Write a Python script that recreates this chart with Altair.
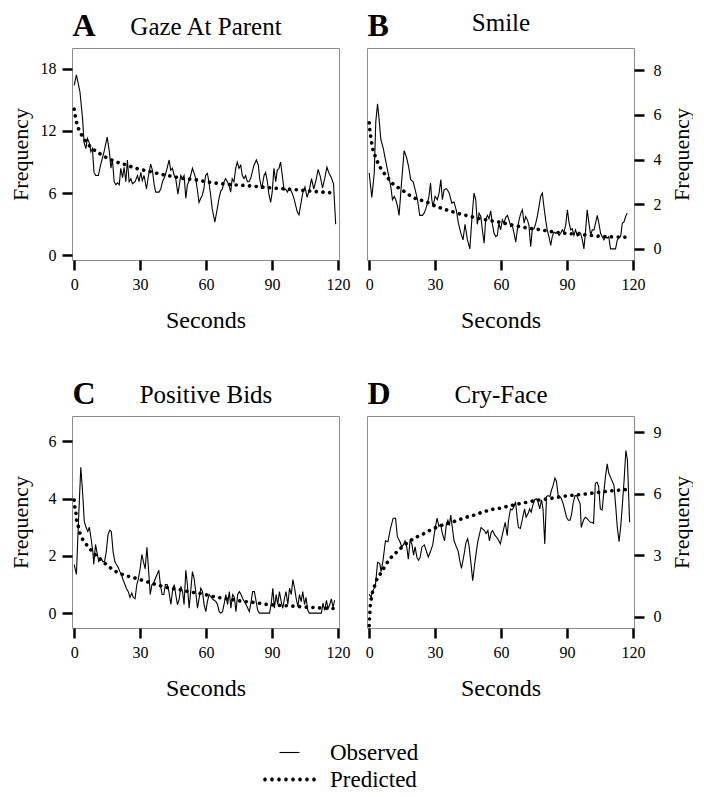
import altair as alt
import pandas as pd

FONT = "Liberation Serif"
SERIES = ["Observed", "Predicted"]
LETTERS = ["A", "B", "C", "D"]
NAMES = ["Gaze At Parent", "Smile", "Positive Bids", "Cry-Face"]
X_TICKS = [0, 30, 60, 90, 120]
A_TICKS = [0, 6, 12, 18]
B_TICKS = [0, 2, 4, 6, 8]
C_TICKS = [0, 2, 4, 6]
D_TICKS = [0, 3, 6, 9]

a_observed = [(0, 16.4), (1, 17.4), (2.6, 15.8), (3.8, 13.2), (4.5, 10.9), (5.3, 10.3), (6, 11.3), (6.8, 10.9),
              (7.6, 10.0), (8.3, 10.3), (9, 8.0), (9.8, 7.7), (11, 7.7), (12, 8.7), (13.6, 10.0), (15, 11.4),
              (16, 10.0), (16.7, 8.4), (17.4, 9.2), (18.2, 7.1), (19, 6.8), (19.7, 7.0), (20.5, 6.8), (21.2, 8.4),
              (22, 7.5), (22.7, 8.5), (23.5, 7.1), (24.2, 9.2), (25, 7.1), (25.8, 7.4), (26.5, 6.9), (27.7, 7.1),
              (28.8, 7.7), (29.5, 7.1), (30.3, 8.0), (31, 7.2), (31.8, 7.7), (32.9, 6.4), (33.8, 7.7), (34.8, 8.8),
              (35.6, 8.2), (36.4, 6.8), (37.1, 6.1), (38.6, 6.1), (39.4, 6.4), (40.2, 7.1), (41.4, 7.7), (42.4, 8.5),
              (43.2, 9.2), (43.9, 8.2), (44.7, 8.4), (45.5, 7.7), (46.2, 7.4), (47.2, 5.9), (48.5, 7.7), (49.3, 7.4),
              (50, 7.7), (50.8, 5.5), (51.5, 6.8), (52.3, 7.2), (53, 7.7), (53.8, 8.4), (54.6, 7.9), (55.3, 7.4),
              (56, 6.4), (56.8, 5.1), (57.6, 5.5), (58.3, 5.8), (59, 6.4), (59.8, 7.7), (60.6, 7.9), (61.3, 7.1),
              (62.1, 5.8), (62.8, 4.5), (64, 3.2), (65.1, 4.5), (65.9, 5.5), (66.7, 6.2), (67.4, 6.4), (68.2, 7.1),
              (68.9, 7.4), (69.7, 7.1), (70.4, 6.8), (71.2, 6.1), (71.9, 7.4), (72.7, 7.1), (73.5, 8.4), (74.2, 9.0),
              (75, 8.4), (75.8, 8.7), (76.5, 7.7), (77.3, 7.4), (78, 7.7), (78.8, 7.1), (79.5, 7.1), (80.3, 7.4),
              (81, 8.0), (81.8, 8.7), (82.9, 9.2), (83.8, 8.7), (84.4, 7.4), (85.3, 6.4), (86.4, 7.7), (87.1, 8.0),
              (87.9, 7.1), (88.6, 5.9), (89.4, 5.1), (90.1, 6.1), (90.9, 8.4), (91.7, 7.1), (92.4, 8.2), (93.2, 8.4),
              (93.9, 9.0), (94.7, 7.7), (95.5, 6.3), (96.2, 6.4), (97, 6.1), (97.7, 6.4), (98.5, 6.3), (99.2, 6.0),
              (100, 5.5), (100.8, 4.8), (101.5, 4.2), (102.3, 3.9), (103, 4.8), (104, 6.0), (105, 6.6), (106, 5.6),
              (107, 6.3), (108, 7.4), (109, 6.4), (110, 7.2), (111, 8.3), (112, 7.6), (113, 6.5), (114, 7.4),
              (115, 8.5), (116, 7.9), (117, 7.5), (118, 6.9), (119, 3.0)]
a_predicted = [(0, 14.1), (1, 12.9), (2, 12.2), (4, 11.4), (6, 10.8), (8, 10.35), (11, 9.9), (14, 9.5), (17, 9.2),
               (20, 8.95), (24, 8.7), (28, 8.4), (32, 8.2), (36, 8.0), (40, 7.8), (45, 7.6), (50, 7.4), (55, 7.3),
               (60, 7.1), (70, 6.85), (80, 6.7), (90, 6.5), (100, 6.35), (110, 6.15), (119, 6.0)]

b_observed = [(0, 3.4), (1.2, 2.3), (2.3, 3.4), (3, 5.7), (3.8, 6.5), (4.5, 5.8), (5.3, 4.9), (6.4, 4.5), (7.6, 3.9),
              (8.8, 3.3), (9.8, 2.8), (10.6, 2.2), (11.4, 2.35), (12.1, 2.2), (12.9, 1.9), (13.6, 1.5), (14.7, 2.95),
              (15.9, 4.4), (17, 4.1), (17.9, 3.7), (18.9, 3.1), (20, 3.0), (20.9, 2.65), (22, 2.2), (23, 1.5),
              (24.2, 1.5), (25, 1.6), (25.8, 1.8), (26.5, 2.05), (27.2, 2.35), (27.9, 2.95), (28.5, 2.2), (29, 1.9),
              (30, 2.35), (31, 2.2), (31.8, 2.5), (32.6, 3.1), (33.3, 2.2), (34.1, 2.65), (35.2, 2.7), (36.4, 2.5),
              (37.6, 2.05), (38.6, 2.1), (39.7, 1.7), (40.6, 1.15), (41.7, 0.7), (42.7, 0.4), (43.6, 1.1), (44.7, 0.4),
              (45.8, 0.0), (46.7, 1.3), (47.7, 2.5), (48.5, 2.2), (49.2, 1.1), (50, 1.6), (50.8, 1.45), (51.5, 0.85),
              (52.3, 0.25), (53, 1.3), (53.8, 1.5), (54.5, 1.35), (55.3, 1.7), (56, 1.15), (56.8, 0.7), (57.6, 0.55),
              (58.3, 0.6), (59, 1.15), (59.8, 0.85), (60.6, 1.3), (61.3, 1.15), (62.1, 1.4), (62.9, 1.5), (63.6, 1.3),
              (64.4, 1.0), (65.1, 1.05), (65.9, 0.7), (66.7, 0.3), (67.4, 0.85), (68.2, 1.3), (69, 1.6), (69.7, 1.75),
              (70.5, 1.15), (71.2, 1.45), (72, 1.3), (72.7, 1.05), (73.5, 0.1), (74.2, 0.85), (75, 0.9), (75.8, 1.15),
              (76.5, 1.45), (77.3, 1.9), (78, 2.35), (78.8, 2.5), (79.5, 1.9), (80.3, 1.3), (81, 0.85), (81.8, 0.55),
              (82.6, 0.15), (83.3, 0.55), (84.1, 0.75), (84.8, 0.7), (85.6, 0.75), (86.4, 0.6), (87.1, 0.7),
              (87.9, 0.85), (88.6, 0.75), (89.4, 1.05), (90.2, 1.75), (90.9, 1.2), (91.7, 0.85), (92.4, 0.9),
              (93.2, 0.6), (93.9, 0.85), (94.7, 0.6), (95.5, 0.75), (96.2, 0.7), (97, 0.4), (97.7, 0.0), (98.5, 0.85),
              (99.2, 1.75), (100, 1.15), (100.8, 0.6), (101.5, 0.85), (102.3, 0.85), (103, 1.15), (103.8, 1.5),
              (104.5, 1.15), (105.3, 0.7), (106, 0.55), (106.8, 0.4), (107.6, 0.55), (108.3, 0.48), (109, 0.55),
              (109.8, 0.0), (111.4, 0.0), (112.1, 0.0), (112.9, 0.4), (113.6, 0.48), (114.4, 0.55), (115.2, 1.15),
              (115.9, 1.2), (116.7, 1.45), (117.4, 1.6)]
b_predicted = [(0, 5.65), (0.3, 5.3), (0.75, 5.0), (1.2, 4.7), (1.8, 4.4), (3, 4.1), (4.2, 3.8), (6, 3.5), (8.3, 3.2),
               (10.9, 2.9), (13.9, 2.7), (17, 2.5), (20, 2.3), (23, 2.2), (26, 2.1), (29, 1.96), (32, 1.85), (35, 1.75),
               (38, 1.66), (41, 1.57), (44, 1.5), (47, 1.43), (53, 1.3), (59, 1.2), (65, 1.07), (71, 0.95), (77, 0.87),
               (83, 0.77), (89, 0.7), (95, 0.65), (101, 0.6), (107, 0.55), (113, 0.53), (118, 0.52)]

c_observed = [(0, 1.7), (1, 1.35), (2, 3.3), (3, 5.1), (3.8, 4.25), (4.6, 3.2), (5.4, 3.0), (6.2, 2.85), (6.9, 3.0),
              (7.7, 2.6), (8.5, 2.15), (8.9, 1.7), (9.7, 2.4), (10.3, 2.15), (11.2, 1.8), (12.3, 1.9), (13, 1.8),
              (13.8, 1.8), (14.6, 2.15), (15.4, 2.75), (16.2, 2.9), (16.9, 2.85), (17.7, 2.15), (18.5, 1.8), (19.2, 1.7),
              (20, 1.6), (20.8, 1.45), (21.5, 1.35), (22.3, 1.15), (23.1, 1.0), (23.8, 0.85), (24.6, 0.75), (25.4, 0.55),
              (26.2, 0.7), (26.9, 0.55), (27.7, 0.5), (28.5, 1.0), (29.2, 1.2), (30, 1.55), (30.8, 2.05), (31.5, 1.8),
              (32.3, 1.55), (33.1, 2.3), (33.8, 1.55), (34.6, 0.65), (35.4, 1.0), (36.1, 1.05), (36.9, 1.2),
              (37.7, 1.35), (38.5, 1.5), (39.2, 1.0), (40, 0.65), (40.8, 0.65), (41.5, 1.0), (42.3, 1.0), (43.1, 0.75),
              (44, 0.3), (44.7, 0.75), (45.5, 1.0), (46.2, 0.65), (47, 0.3), (47.8, 0.5), (48.5, 0.93), (49.3, 0.75),
              (50, 0.3), (50.8, 1.5), (51.5, 1.0), (52.3, 0.17), (53, 0.75), (53.8, 1.45), (54.6, 1.2), (55.3, 0.75),
              (56.1, 0.17), (56.8, 0.5), (57.6, 0.87), (58.4, 0.75), (59.1, 0.3), (59.9, 0.05), (60.6, 0.4),
              (61.4, 0.65), (62.1, 0.58), (62.9, 0.5), (63.7, 0.45), (64.5, 0.4), (65.2, 0.3), (66, 0.05), (66.7, 0.0),
              (67.5, 0.05), (68.3, 0.35), (69, 0.65), (69.8, 0.3), (70.6, 0.75), (71.3, 0.17), (72.1, 0.65),
              (72.9, 0.55), (73.6, 0.05), (74.4, 0.65), (75.2, 0.75), (75.9, 0.65), (76.7, 0.5), (77.5, 0.4),
              (78.2, 0.3), (79, 0.17), (79.7, 0.05), (80.5, 0.4), (81.2, 0.75), (82, 0.75), (82.8, 0.4), (83.5, 0.1),
              (84.3, 0.0), (88.9, 0.0), (89.6, 0.3), (90.4, 0.87), (91.1, 0.17), (91.9, 0.65), (92.6, 0.3),
              (93.4, 0.75), (94.2, 0.4), (94.9, 0.17), (95.7, 0.52), (96.4, 0.75), (97.2, 0.3), (98, 0.87),
              (98.8, 0.65), (99.5, 1.17), (100.3, 0.87), (101, 0.52), (101.8, 0.23), (102.5, 0.65), (103.3, 0.4),
              (104, 0.75), (104.8, 0.3), (105.5, 0.55), (106.3, 0.1), (107, 0.0), (112.5, 0.0), (113.2, 0.35),
              (114, 0.1), (114.8, 0.45), (115.5, 0.15), (116.3, 0.3), (117, 0.5), (117.8, 0.2), (118.5, 0.45)]
c_predicted = [(0, 3.95), (0.3, 3.7), (0.8, 3.5), (1.1, 3.25), (2, 3.0), (2.6, 2.8), (4.6, 2.5), (6.6, 2.3), (8.8, 2.1),
               (11.8, 1.9), (14.6, 1.7), (18, 1.5), (21, 1.38), (24, 1.3), (27, 1.24), (30, 1.17), (33, 1.1),
               (36, 1.03), (39, 0.96), (42, 0.9), (45, 0.86), (48, 0.82), (52, 0.75), (57, 0.69), (60, 0.64),
               (64.5, 0.56), (68, 0.52), (72, 0.47), (77, 0.41), (81, 0.38), (84, 0.35), (87, 0.31), (90, 0.29),
               (93.5, 0.27), (96.5, 0.26), (102, 0.23), (110, 0.19), (118, 0.16)]

d_observed = [(0, 1.1), (0.8, 0.95), (1.7, 1.27), (2.8, 1.5), (3.8, 2.65), (4.8, 2.6), (5.4, 2.2), (6.3, 2.75),
              (7.4, 3.7), (8.5, 3.65), (9.7, 4.3), (10.9, 4.8), (12, 4.8), (12.8, 3.9), (14, 3.65), (14.8, 3.4),
              (15.5, 3.5), (16.3, 3.7), (17.1, 3.4), (17.8, 2.8), (18.6, 3.7), (19.4, 3.55), (20.2, 3.0), (20.9, 3.4),
              (21.7, 2.9), (22.5, 2.75), (23.2, 2.9), (24, 3.4), (25.1, 3.5), (26, 3.2), (26.9, 2.9), (27.8, 3.15),
              (28.9, 3.5), (30, 4.3), (30.9, 4.8), (31.7, 4.4), (32.5, 4.5), (33.2, 4.1), (34.3, 3.7), (35.1, 4.5),
              (35.8, 4.7), (36.5, 4.45), (37.1, 4.95), (37.7, 4.45), (38.6, 3.7), (39.7, 3.4), (40.5, 3.2),
              (41.2, 2.75), (42, 2.35), (43.2, 3.05), (44, 3.6), (44.8, 3.8), (45.5, 3.4), (46.3, 2.6), (47.1, 1.75),
              (47.8, 2.4), (48.6, 3.05), (49.4, 3.65), (50.9, 4.35), (52.4, 4.2), (53.2, 4.05), (54, 4.2), (54.7, 3.7),
              (55.5, 4.1), (56.2, 4.2), (57, 4.0), (58.5, 3.8), (59.7, 3.55), (60.8, 4.1), (61.9, 4.6), (62.8, 3.95),
              (63.4, 4.7), (64.3, 5.25), (65, 5.2), (65.8, 5.35), (66.6, 5.6), (67.3, 4.85), (67.9, 4.35), (68.8, 4.3),
              (69.6, 4.7), (70.7, 5.25), (71.4, 4.85), (72.2, 5.0), (73, 5.25), (73.7, 5.1), (74.5, 5.45), (75.3, 5.7),
              (76.1, 5.75), (76.8, 5.6), (77.6, 5.25), (78.4, 5.7), (79.1, 5.25), (79.9, 3.55), (80.7, 5.85),
              (81.4, 5.9), (82.2, 5.85), (82.9, 6.15), (83.7, 6.4), (84.5, 6.75), (85.2, 6.6), (86, 5.9), (86.8, 5.85),
              (87.5, 5.75), (88.3, 5.5), (89, 5.2), (89.8, 4.85), (90.6, 4.7), (91.4, 4.7), (92.1, 5.0), (92.9, 5.6),
              (93.7, 5.9), (94.4, 5.9), (95.2, 5.7), (96, 5.5), (96.5, 4.35), (97.5, 4.7), (98.3, 4.85), (99, 4.8),
              (99.8, 4.7), (100.6, 4.6), (101.3, 4.6), (102.1, 4.55), (102.9, 6.5), (103.7, 6.55), (104.4, 6.35),
              (105.2, 5.25), (106, 5.2), (106.7, 6.0), (107.5, 6.8), (108.3, 7.45), (109, 7.0), (109.8, 6.8),
              (110.6, 6.6), (111.4, 6.4), (112.2, 5.35), (112.9, 4.35), (113.7, 3.65), (114.5, 4.45), (115.2, 5.45),
              (116, 6.65), (116.8, 8.1), (117.5, 7.65), (118.5, 4.6)]
d_predicted = [(0, -0.44), (0.15, -0.1), (0.3, 0.2), (0.5, 0.55), (0.9, 0.85), (1.5, 1.2), (2.3, 1.45), (3.2, 1.75),
               (4.6, 2.0), (6.3, 2.3), (8.9, 2.75), (12, 3.1), (15, 3.4), (18, 3.65), (21, 3.85), (24, 4.0),
               (27.4, 4.2), (30.5, 4.35), (33.5, 4.47), (36.6, 4.57), (39.7, 4.68), (42.8, 4.8), (45.8, 4.9),
               (48.9, 4.98), (51, 5.08), (54, 5.17), (57, 5.25), (60, 5.3), (63, 5.38), (66, 5.45), (69, 5.52),
               (72, 5.58), (75, 5.65), (78, 5.7), (81, 5.74), (84.5, 5.8), (87.5, 5.85), (90.6, 5.9), (93.7, 5.93),
               (96.7, 5.96), (99.8, 6.0), (102.8, 6.04), (105.9, 6.08), (108.9, 6.12), (112, 6.15), (115, 6.18),
               (118, 6.2)]

W = 267
H1 = 212
H2 = 212
DOT_DASH = [0.1, 6.6]

# legend glyphs: unit space, 1 unit = 11.5 px for a symbol size of 23*23
SYM = 23
_u = SYM / 2
OBS_GLYPH = f"M{-10 / _u:.3f},{-0.55 / _u:.3f}H{10 / _u:.3f}V{0.55 / _u:.3f}H{-10 / _u:.3f}Z"
_r = 1.8 / _u
PRED_GLYPH = "".join(
    f"M{c - _r:.3f},0A{_r:.3f},{_r:.3f} 0 1,0 {c + _r:.3f},0A{_r:.3f},{_r:.3f} 0 1,0 {c - _r:.3f},0Z"
    for c in [(-24.5 + 7 * k) / _u for k in range(8)]
)


def panel(observed, predicted, ydom, yticks, yorient, letter, name, name_y, height, legend=False):
    obs = pd.DataFrame(observed, columns=["t", "v"]).assign(series=SERIES[0])
    pred = pd.DataFrame(predicted, columns=["t", "v"]).assign(series=SERIES[1])
    xs = alt.Scale(domain=[-1, 120.5], nice=False, zero=False)
    ys = alt.Scale(domain=ydom, nice=False, zero=False)
    left = yorient == "left"
    other = "right" if left else "left"
    xaxis = alt.Axis(values=X_TICKS, title="Seconds", orient="bottom", titleY=60, titleBaseline="middle",
                     titleFontSize=24, labelFlush=False)
    yaxis = alt.Axis(values=yticks, title="Frequency", orient=yorient, titleAngle=270,
                     titleX=-52 if left else 47, titleBaseline="middle", labelPadding=6 if left else 9)
    name_axis = alt.Axis(orient="top", title=name, labels=False, ticks=False, domain=False,
                         titleY=name_y, titleBaseline="alphabetic", titleFontSize=25)
    letter_axis = alt.Axis(orient=other, title=letter, labels=False, ticks=False, domain=False,
                           titleAngle=0, titleAlign="left", titleBaseline="alphabetic",
                           titleX=-W if other == "right" else 0, titleY=-13,
                           titleFontSize=32, titleFontWeight="bold")
    obs_line = alt.Chart(obs).mark_line(color="black", strokeWidth=1.1).encode(
        x=alt.X("t:Q", scale=xs, axis=xaxis), y=alt.Y("v:Q", scale=ys, axis=yaxis))
    pred_line = alt.Chart(pred).mark_line(
        color="black", strokeWidth=3.6, strokeDash=DOT_DASH, strokeCap="round", interpolate="monotone"
    ).encode(x=alt.X("t:Q", scale=xs, axis=name_axis), y=alt.Y("v:Q", scale=ys, axis=letter_axis))
    layers = [obs_line, pred_line]
    if legend:
        both = pd.concat([obs, pred])
        key = alt.Chart(both).mark_point(filled=True, color="black", opacity=0).encode(
            x=alt.X("t:Q", scale=xs, axis=None), y=alt.Y("v:Q", scale=ys, axis=None),
            shape=alt.Shape("series:N", scale=alt.Scale(domain=SERIES, range=[OBS_GLYPH, PRED_GLYPH]),
                            legend=alt.Legend(title=None, orient="none", legendX=206, legendY=693,
                                              symbolSize=SYM * SYM, labelFont=FONT, labelFontSize=23,
                                              labelColor="black", labelOffset=29, rowPadding=3,
                                              symbolStrokeWidth=0)))
        layers.append(key)
    return alt.layer(*layers).resolve_axis(x="independent", y="independent").properties(
        width=W, height=height)


pa = panel(a_observed, a_predicted, [-0.45, 20], A_TICKS, "left", LETTERS[0], NAMES[0], -14, H1)
pb = panel(b_observed, b_predicted, [-0.5, 9.0], B_TICKS, "right", LETTERS[1], NAMES[1], -18, H1)
pc = panel(c_observed, c_predicted, [-0.52, 6.89], C_TICKS, "left", LETTERS[2], NAMES[2], -14, H2, legend=True)
pd_ = panel(d_observed, d_predicted, [-0.55, 9.78], D_TICKS, "right", LETTERS[3], NAMES[3], -14, H2)

chart = alt.concat(pa, pb, pc, pd_, columns=2, spacing=alt.RowColnumber(row=156, column=28), bounds="flush"
).resolve_scale(x="independent", y="independent").configure_view(
    stroke="#8c8c8c", strokeWidth=1
).configure_axis(
    labelFont=FONT, labelFontSize=16, labelColor="black", titleFont=FONT, titleFontSize=22,
    titleFontWeight="normal", titleColor="black", tickColor="black", tickWidth=2.5, tickSize=10,
    domain=False, grid=False, labelPadding=6
).properties(padding={"left": 0, "top": 0, "right": 0, "bottom": 0})

chart.save("out.html", embed_options={"renderer": "svg", "actions": False})
